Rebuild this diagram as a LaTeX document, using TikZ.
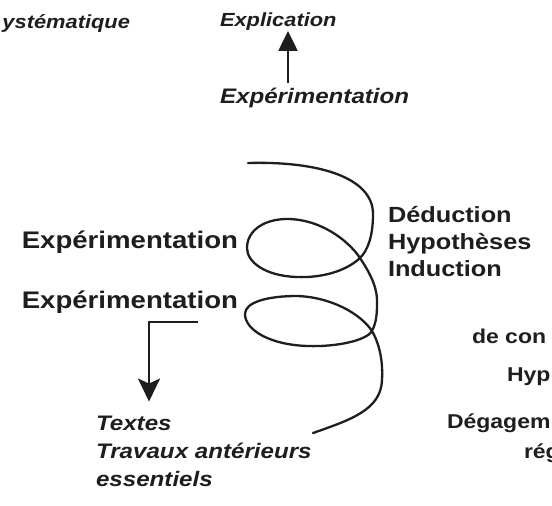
\documentclass[tikz,border=0pt]{standalone}
\usepackage{fontspec}
\setmainfont{Liberation Sans}[FakeStretch=1.15]
\usetikzlibrary{arrows.meta}
\definecolor{ink}{HTML}{1E1E1E}
\tikzset{
  lbl/.style={inner sep=0pt, outer sep=0pt, text=ink, font=\bfseries\fontsize{#1}{#1}\selectfont},
  ilbl/.style={inner sep=0pt, outer sep=0pt, text=ink, font=\bfseries\itshape\fontsize{#1}{#1}\selectfont},
  coil/.style={draw=ink, line width=2.3pt, line cap=round, line join=round},
  uparrow/.style={draw=ink, line width=2.3pt, -{Triangle[width=19pt,length=20pt]}},
  downarrow/.style={draw=ink, line width=2.3pt, -{Stealth[width=22pt,length=23pt,inset=5pt]}},
}
\begin{document}
\begin{tikzpicture}[x=1pt, y=-1pt]
\useasboundingbox[fill=white] (0,0) rectangle (552,506);

% top row
\node[ilbl=19, anchor=base east] (syst) at (130,28) {ystématique};
\node[ilbl=19, anchor=base west] (explic) at (220,27) {Explication};
\node[ilbl=21, anchor=base west] (expit) at (220,103) {Expérimentation};
\coordinate (upfoot) at (288,83);
\draw[uparrow] (upfoot) -- (explic.south -| upfoot);

% coil
\draw[coil]
  (248,163) .. controls (320,161) and (373,178) .. (373,214)
  .. controls (373,236) and (368,250) .. (360,258)
  .. controls (345,272) and (320,278) .. (297,277)
  .. controls (265,276) and (247,262) .. (247,248)
  .. controls (247,230) and (265,219) .. (287,219)
  .. controls (320,219) and (348,240) .. (360,258)
  .. controls (372,276) and (378,290) .. (377,305)
  .. controls (377,315) and (376,323) .. (372,331)
  .. controls (366,341) and (335,347) .. (308,346)
  .. controls (270,345) and (245,330) .. (245,314)
  .. controls (245,302) and (268,296) .. (297,296)
  .. controls (330,297) and (360,313) .. (372,331)
  .. controls (380,345) and (383,362) .. (382,380)
  .. controls (381,410) and (350,420) .. (313,433);

% labels around the coil (base anchor of a multi-line node is its last line)
\node[lbl=24, anchor=base east] (expa) at (238,248) {Expérimentation};
\node[lbl=24, anchor=base east] (expb) at (238,308) {Expérimentation};
\node[lbl=22, anchor=base west, align=left, font=\bfseries\fontsize{22}{27}\selectfont] (ded) at (388,276) {Déduction\\Hypothèses\\Induction};

% elbow arrow to the sources
\node[ilbl=21, anchor=base west, align=left, font=\bfseries\itshape\fontsize{21}{28}\selectfont] (src) at (96,486) {Textes\\Travaux antérieurs\\essentiels};
\coordinate (elbow) at (198,322);
\draw[downarrow, shorten >=14pt] (elbow) -| (src.north -| 149,0);

% right column, cut by the edge
\node[lbl=20, anchor=base west] (decon) at (472,343) {de con};
\node[lbl=20, anchor=base west] (hyp) at (507,381) {Hyp};
\node[lbl=20, anchor=base west] (deg) at (447,428) {Dégagem};
\node[lbl=20, anchor=base west] (reg) at (524,458) {rég};
\end{tikzpicture}
\end{document}
